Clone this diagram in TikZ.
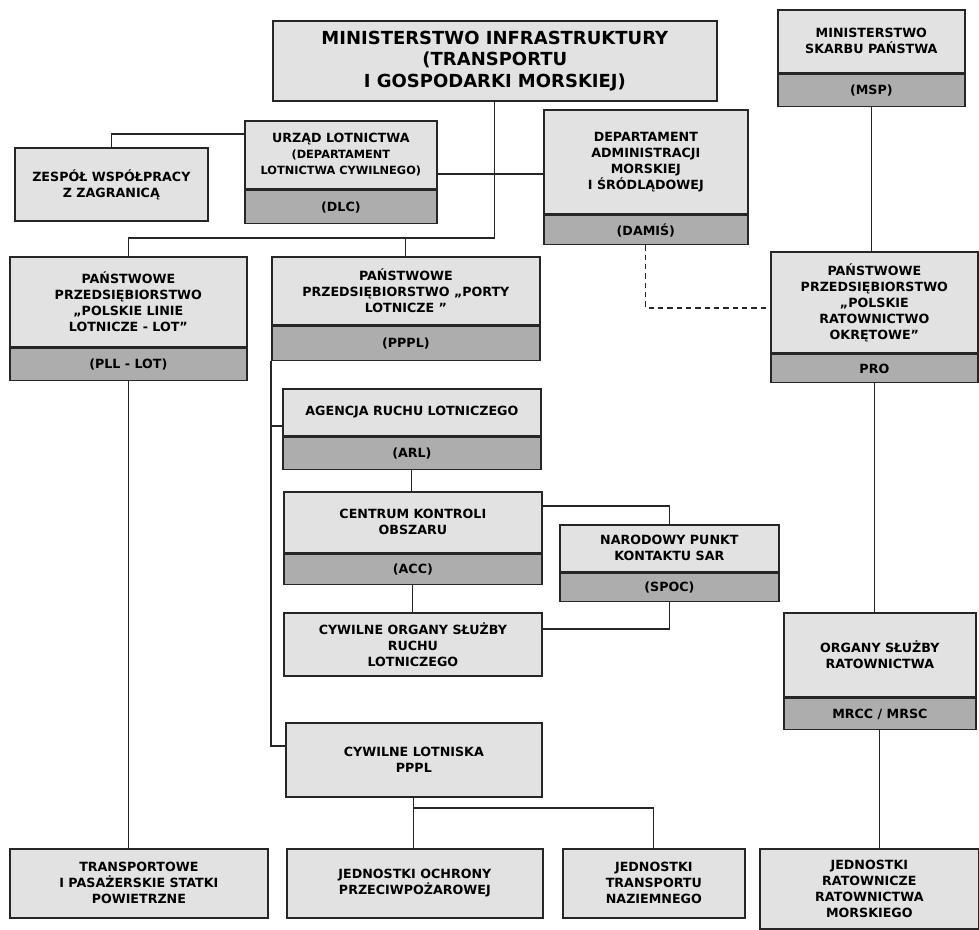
\documentclass[tikz,border=0pt]{standalone}
\usepackage{fontspec}
\setmainfont{DejaVu Sans}
\definecolor{boxtop}{HTML}{E2E2E2}
\definecolor{boxlow}{HTML}{ADADAD}
\definecolor{boxline}{HTML}{262626}
\newcommand{\boxfont}{\fontsize{9.5}{12}\selectfont\bfseries}
\newcommand{\headfont}{\fontsize{13.5}{16}\selectfont\bfseries}
\newcommand{\subfont}{\fontsize{8.5}{10.5}\selectfont\bfseries}
\tikzset{
  box/.style={draw=boxline, line width=1.3pt, fill=boxtop, font=\boxfont,
              align=center, inner sep=1pt, anchor=north west},
  lowbox/.style={box, fill=boxlow},
  bw/.style={minimum width=#1*0.75pt},
  bh/.style={minimum height=#1*0.75pt},
  link/.style={draw=boxline, line width=0.9pt},
}

\begin{document}
\begin{tikzpicture}[x=0.75pt, y=-0.75pt]
  \useasboundingbox (0,0) rectangle (979,929);
  % ministerstwa
  \node[box, bw=444, bh=80, font=\headfont] (mi) at (272,20)
    {MINISTERSTWO INFRASTRUKTURY\\ (TRANSPORTU\\ I GOSPODARKI MORSKIEJ)};
  \node[box, bw=187, bh=63] (msp) at (777,9) {MINISTERSTWO\\ SKARBU PAŃSTWA};
  \node[lowbox, bw=187, bh=32] (mspskr) at (msp.south west) {(MSP)};

  % departamenty
  \node[box, bw=193, bh=73] (zespol) at (14,147) {ZESPÓŁ WSPÓŁPRACY\\ Z ZAGRANICĄ};
  \node[box, bw=192, bh=68] (ul) at (244,120)
    {URZĄD LOTNICTWA\\ \subfont (DEPARTAMENT\\ \subfont LOTNICTWA CYWILNEGO)};
  \node[lowbox, bw=192, bh=33] (ulskr) at (ul.south west) {(DLC)};
  \node[box, bw=204, bh=104] (damis) at (543,109)
    {DEPARTAMENT\\ ADMINISTRACJI\\ MORSKIEJ\\ I ŚRÓDLĄDOWEJ};
  \node[lowbox, bw=204, bh=29] (damisskr) at (damis.south west) {(DAMIŚ)};

  % przedsiebiorstwa
  \node[box, bw=237, bh=90] (pll) at (9,256)
    {PAŃSTWOWE\\ PRZEDSIĘBIORSTWO\\ „POLSKIE LINIE\\ LOTNICZE - LOT”};
  \node[lowbox, bw=237, bh=32] (pllskr) at (pll.south west) {(PLL - LOT)};
  \node[box, bw=268, bh=68] (pppl) at (271,256)
    {PAŃSTWOWE\\ PRZEDSIĘBIORSTWO „PORTY\\ LOTNICZE ”};
  \node[lowbox, bw=268, bh=34] (ppplskr) at (pppl.south west) {(PPPL)};
  \node[box, bw=207, bh=101] (pro) at (770,251)
    {PAŃSTWOWE\\ PRZEDSIĘBIORSTWO\\ „POLSKIE\\ RATOWNICTWO\\ OKRĘTOWE”};
  \node[lowbox, bw=207, bh=28] (proskr) at (pro.south west) {PRO};

  % sluzby ruchu lotniczego
  \node[box, bw=258, bh=47] (arl) at (282,388) {AGENCJA RUCHU LOTNICZEGO};
  \node[lowbox, bw=258, bh=32] (arlskr) at (arl.south west) {(ARL)};
  \node[box, bw=258, bh=61] (acc) at (283,491) {CENTRUM KONTROLI\\ OBSZARU};
  \node[lowbox, bw=258, bh=30] (accskr) at (acc.south west) {(ACC)};
  \node[box, bw=219, bh=47] (spoc) at (559,524) {NARODOWY PUNKT\\ KONTAKTU SAR};
  \node[lowbox, bw=219, bh=28] (spocskr) at (spoc.south west) {(SPOC)};
  \node[box, bw=258, bh=63] (cos) at (283,612)
    {CYWILNE ORGANY SŁUŻBY\\ RUCHU\\ LOTNICZEGO};
  \node[box, bw=256, bh=74] (cl) at (285,722) {CYWILNE LOTNISKA\\ PPPL};
  \node[box, bw=192, bh=84] (mrcc) at (783,612) {ORGANY SŁUŻBY\\ RATOWNICTWA};
  \node[lowbox, bw=192, bh=31] (mrccskr) at (mrcc.south west) {MRCC / MRSC};

  % jednostki
  \node[box, bw=258, bh=69] (tsp) at (9,848)
    {TRANSPORTOWE\\ I PASAŻERSKIE STATKI\\ POWIETRZNE};
  \node[box, bw=256, bh=69] (jop) at (286,848) {JEDNOSTKI OCHRONY\\ PRZECIWPOŻAROWEJ};
  \node[box, bw=182, bh=69] (jtn) at (562,848) {JEDNOSTKI\\ TRANSPORTU\\ NAZIEMNEGO};
  \node[box, bw=219, bh=80] (jrrm) at (759,848)
    {JEDNOSTKI\\ RATOWNICZE\\ RATOWNICTWA\\ MORSKIEGO};

  % polaczenia
  \draw[link] (mi.south) -- (mi.south |- 0,238) -| (pll.north);
  \draw[link] (mi.south |- 0,238) -| (pppl.north);
  \draw[link] (zespol.north) |- (ul.west |- 0,134);
  \draw[link] (ul.east |- 0,174) -- (damis.west |- 0,174);
  \draw[link, dash pattern=on 4pt off 3pt] (damisskr.south) |- (pro.west |- 0,308);
  \draw[link] (mspskr.south) -- (mspskr.south |- pro.north);
  \draw[link] (proskr.south) -- (proskr.south |- mrcc.north);
  \draw[link] (mrccskr.south) -- (mrccskr.south |- jrrm.north);
  \draw[link] (pllskr.south) -- (pllskr.south |- tsp.north);
  \draw[link] (ppplskr.south west) |- (arl.west |- 0,426);
  \draw[link] (ppplskr.south west) |- (cl.west |- 0,746);
  \draw[link] (arlskr.south) -- (arlskr.south |- acc.north);
  \draw[link] (accskr.south) -- (accskr.south |- cos.north);
  \draw[link] (acc.east |- 0,506) -| (spoc.north);
  \draw[link] (spocskr.south) |- (cos.east |- 0,629);
  \draw[link] (cl.south) -- (cl.south |- jop.north);
  \draw[link] (cl.south |- 0,808) -| (jtn.north);
\end{tikzpicture}
\end{document}
